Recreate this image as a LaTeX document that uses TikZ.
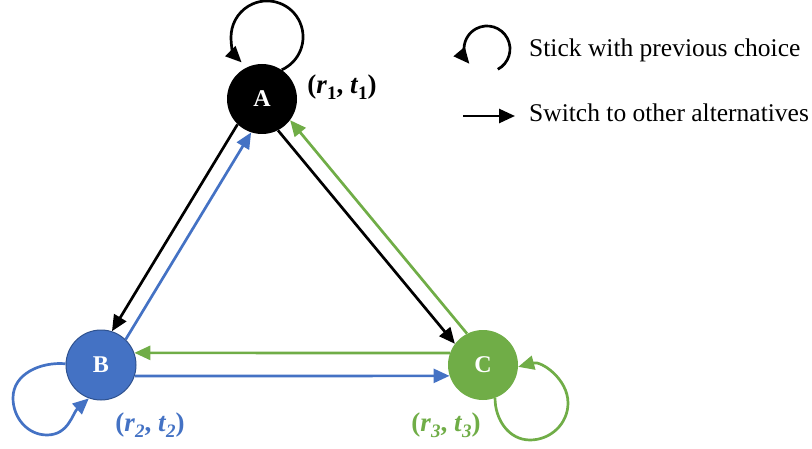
\documentclass[tikz,border=0pt]{standalone}
\usepackage{fontspec}
\setmainfont{Liberation Serif}
\usetikzlibrary{arrows.meta}
\definecolor{myblue}{HTML}{4472C4}
\definecolor{mygreen}{HTML}{70AD47}
\definecolor{blueedge}{HTML}{2F528F}
\newcommand{\lowsub}[1]{\raisebox{-0.22em}{\fontsize{19}{19}\selectfont #1}}
\begin{document}
\begin{tikzpicture}[x=1pt,y=1pt,
  state/.style={circle, minimum size=70pt, inner sep=0pt, text=white, font=\fontsize{24}{24}\selectfont\bfseries},
  conn/.style={line width=2.7pt, -{Triangle[length=16pt,width=14pt]}},
  lbl/.style={font=\fontsize{27}{27}\selectfont\bfseries, inner sep=0pt},
  legtext/.style={font=\fontsize{25.5}{25.5}\selectfont, anchor=west, inner sep=0pt}]
\useasboundingbox (0,0) rectangle (812,448);
\node[state, fill=black] (A) at (262,349) {A};
\node[state, fill=myblue, draw=blueedge, line width=1pt] (B) at (101,83) {B};
\node[state, fill=mygreen] (C) at (483,83) {C};

% connectors between states
\draw[conn] (A.226) -- (B.72);
\draw[conn, myblue] (B.46) -- (A.252);
\draw[conn] (A.297) -- (C.143);
\draw[conn, mygreen] (C.117) -- (A.323);
\draw[conn, mygreen] (C.160) -- (B.20);
\draw[conn, myblue] (B.342) -- (C.198);

% self loops
\draw[conn] (A.56) arc[start angle=-66, end angle=225, radius=36];
\coordinate (bl1) at (13,50);
\coordinate (bl2) at (47,13);
\draw[conn, myblue] (B.178) to[out=175,in=90] (bl1) to[out=270,in=180] (bl2) to[out=0,in=222] (B.250);
\coordinate (cl1) at (530,8);
\coordinate (cl2) at (568,45);
\draw[conn, mygreen] (C.290) to[out=270,in=180] (cl1) to[out=0,in=270] (cl2) to[out=90,in=15] (C.357);

% labels
\node[lbl] (l1) at (342,361) {(\textit{r}\lowsub{1}, \textit{t}\lowsub{1})};
\node[lbl, text=myblue] (l2) at (150,23) {(\textit{r}\lowsub{\textit{2}}, \textit{t}\lowsub{\textit{2}})};
\node[lbl, text=mygreen] (l3) at (446,23) {(\textit{r}\lowsub{\textit{3}}, \textit{t}\lowsub{\textit{3}})};

% legend
\coordinate (lg1) at (497.8,378.7);
\draw[conn] (lg1) arc[start angle=-62, end angle=220, radius=23];
\coordinate (la1) at (463,332);
\coordinate (la2) at (515,332);
\draw[conn] (la1) -- (la2);
\node[legtext] (t1) at (529,398) {Stick with previous choice};
\node[legtext] (t2) at (529,335) {Switch to other alternatives};
\end{tikzpicture}
\end{document}
